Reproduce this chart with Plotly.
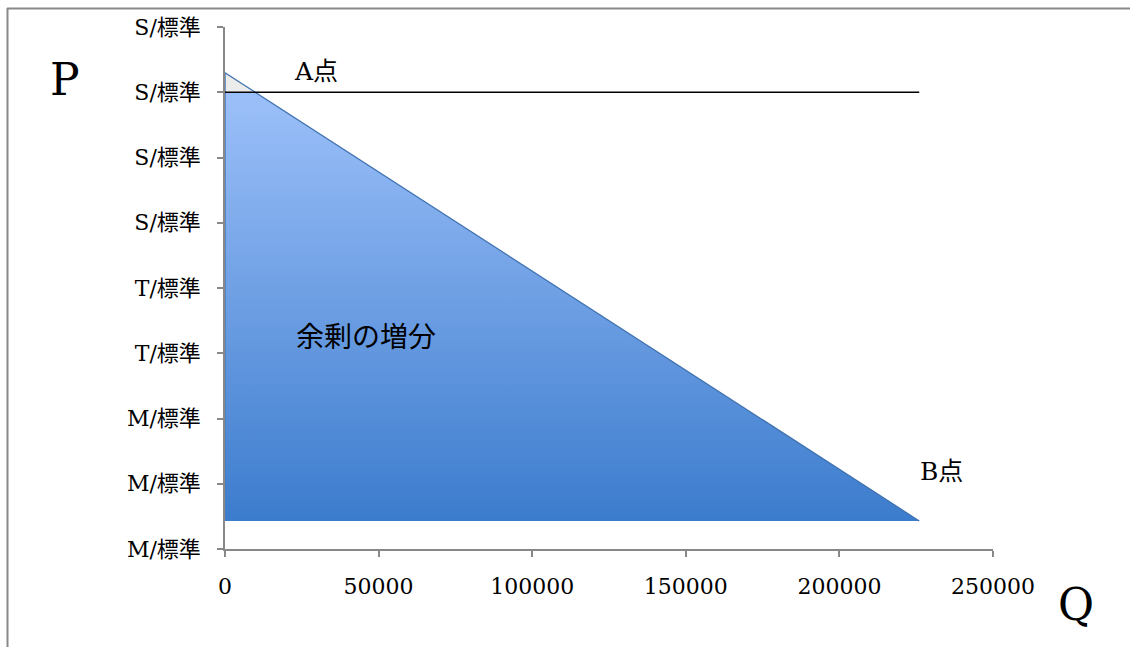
import plotly.graph_objects as go

# ---- data ----
x_ticks = [0, 50000, 100000, 150000, 200000, 250000]
y_tick_vals = [0, 1, 2, 3, 4, 5, 6, 7, 8]
y_tick_text = ["M/標準", "M/標準", "M/標準", "T/標準", "T/標準",
               "S/標準", "S/標準", "S/標準", "S/標準"]
price_line_q = [0, 226000]
price_line_p = [7.0, 7.0]
demand_q = [0, 226000]
demand_p = [7.3, 0.43]

# intersection of demand with price line (A point)
qA = demand_q[1] * (demand_p[0] - price_line_p[0]) / (demand_p[0] - demand_p[1])

W, H = 1130, 647
L, R, T, B = 225, 993, 27, 549


def px(x):
    return (x - L) / (R - L)


def py(y):
    return (B - y) / (B - T)


serif = "DejaVu Serif, Noto Sans CJK JP, serif"

fig = go.Figure()

# blue surplus area (gradient)
fig.add_trace(go.Scatter(
    x=[0, qA, demand_q[1], 0, 0],
    y=[price_line_p[0], price_line_p[0], demand_p[1], demand_p[1], price_line_p[0]],
    fill="toself", mode="lines", line=dict(width=0, color="rgba(0,0,0,0)"),
    fillgradient=dict(type="vertical", colorscale=[[0, "#3c7ccd"], [1, "#9cc0f9"]]),
    hoverinfo="skip", showlegend=False))

# small triangle above the price line
fig.add_trace(go.Scatter(
    x=[0, qA, 0, 0], y=[demand_p[0], price_line_p[0], price_line_p[0], demand_p[0]],
    fill="toself", fillcolor="#ececec", mode="lines",
    line=dict(width=0, color="rgba(0,0,0,0)"), hoverinfo="skip", showlegend=False))

# left vertical edge of triangle
fig.add_trace(go.Scatter(
    x=[0, 0], y=[demand_p[0], demand_p[1]], mode="lines",
    line=dict(color="#4a7ebf", width=1.5), hoverinfo="skip", showlegend=False))

# demand line
fig.add_trace(go.Scatter(
    x=demand_q, y=demand_p, mode="lines",
    line=dict(color="#3f72b0", width=1.3), hoverinfo="skip", showlegend=False))

# price line
fig.add_trace(go.Scatter(
    x=price_line_q, y=price_line_p, mode="lines",
    line=dict(color="black", width=1.5), hoverinfo="skip", showlegend=False))

fig.update_layout(
    width=W, height=H,
    margin=dict(l=L, r=W - R, t=T, b=H - B),
    paper_bgcolor="white", plot_bgcolor="white",
    font=dict(family=serif, size=22, color="black"),
    xaxis=dict(range=[0, 250000], tickvals=x_ticks, ticktext=[str(v) for v in x_ticks],
               showgrid=False, zeroline=False, showline=True, linecolor="#888888", linewidth=1.5,
               ticks="outside", ticklen=6, tickcolor="#888888", tickwidth=1.5,
               ticklabelstandoff=11, tickfont=dict(family=serif, size=22)),
    yaxis=dict(range=[0, 8], tickvals=y_tick_vals, ticktext=y_tick_text,
               showgrid=False, zeroline=False, showline=True, linecolor="#888888", linewidth=1.5,
               ticks="outside", ticklen=6, tickcolor="#888888", tickwidth=1.5,
               ticklabelstandoff=12, tickfont=dict(family=serif, size=22)),
    shapes=[
        dict(type="line", xref="paper", yref="paper", x0=px(7), x1=px(1130), y0=py(8.5), y1=py(8.5),
             line=dict(color="#888888", width=2)),
        dict(type="line", xref="paper", yref="paper", x0=px(7.5), x1=px(7.5), y0=py(8), y1=py(647),
             line=dict(color="#888888", width=2)),
    ],
    annotations=[
        dict(text="P", x=px(65), y=py(80), xref="paper", yref="paper", showarrow=False,
             xanchor="center", yanchor="middle", font=dict(family=serif, size=44)),
        dict(text="Q", x=px(1076), y=py(604), xref="paper", yref="paper", showarrow=False,
             xanchor="center", yanchor="middle", font=dict(family=serif, size=44)),
        dict(text="A点", x=px(316), y=py(72), xref="paper", yref="paper", showarrow=False,
             xanchor="center", yanchor="middle", font=dict(family=serif, size=25)),
        dict(text="B点", x=px(941), y=py(471), xref="paper", yref="paper", showarrow=False,
             xanchor="center", yanchor="middle", font=dict(family=serif, size=25)),
        dict(text="余剰の増分", x=px(366), y=py(338), xref="paper", yref="paper", showarrow=False,
             xanchor="center", yanchor="middle", font=dict(family=serif, size=28)),
    ],
)

fig.write_html("out.html")
